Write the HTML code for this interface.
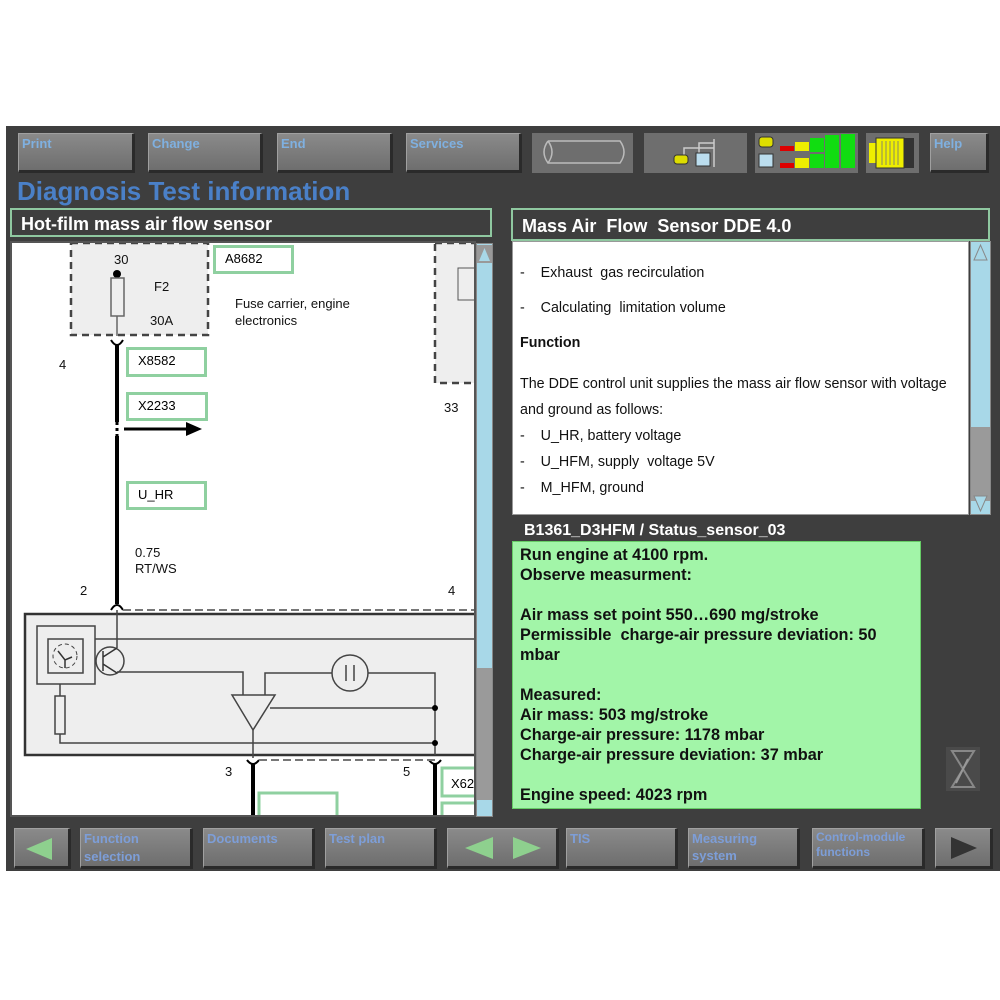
<!DOCTYPE html>
<html><head><meta charset="utf-8"><style>
*{margin:0;padding:0;box-sizing:border-box}
body{width:1000px;height:1000px;background:#fff;position:relative;overflow:hidden;font-family:"Liberation Sans",sans-serif}
.a{position:absolute}
.btn{position:absolute;background:linear-gradient(#8a8a8a,#6e6e6e);border-top:1px solid #a0a0a0;border-left:1px solid #a0a0a0;border-right:3px solid #2a2a2a;border-bottom:3px solid #2a2a2a;color:#7fb0e0;font-weight:bold;font-size:13px;padding:1px 3px;line-height:17px}
.ic{position:absolute;background:#6e6e6e}
.lbl{position:absolute;border:3px solid #8fd0a0;background:#fff;font-size:13px;padding-left:9px;line-height:22px}
.t{position:absolute;font-size:13px;color:#111}
</style></head><body>
<div class="a" style="left:6px;top:126px;width:994px;height:745px;background:#3e3e3e"></div>

<div class="btn" style="left:18px;top:133px;width:117px;height:40px">Print</div>
<div class="btn" style="left:148px;top:133px;width:115px;height:40px">Change</div>
<div class="btn" style="left:277px;top:133px;width:116px;height:40px">End</div>
<div class="btn" style="left:406px;top:133px;width:116px;height:40px">Services</div>
<div class="ic" style="left:532px;top:133px;width:101px;height:40px"></div>
<svg class="a" style="left:532px;top:133px" width="101" height="40"><path d="M16 8 H88 Q96 19 88 30 H16 Q8 19 16 8 M16 8 Q24 19 16 30" fill="none" stroke="#bbb" stroke-width="1.5"/></svg>
<div class="ic" style="left:644px;top:133px;width:103px;height:40px"></div>
<svg class="a" style="left:644px;top:133px" width="103" height="40"><path d="M40 26 V15 H70 M55 22 V10 H70 M70 6 V34" fill="none" stroke="#ccc" stroke-width="1.5"/><rect x="30" y="22" width="14" height="9" rx="3" fill="#dd0" stroke="#333"/><rect x="52" y="20" width="14" height="13" fill="#bde" stroke="#333"/></svg>
<div class="ic" style="left:755px;top:133px;width:103px;height:40px"></div>
<svg class="a" style="left:755px;top:133px" width="103" height="40"><rect x="4" y="4" width="14" height="10" rx="3" fill="#dd0" stroke="#333"/><rect x="4" y="21" width="14" height="13" fill="#bde" stroke="#333"/>
<rect x="25" y="13" width="14" height="5" fill="#d00"/><rect x="40" y="9" width="14" height="9" fill="#ee0"/><rect x="55" y="5" width="14" height="14" fill="#1d1"/><rect x="70" y="2" width="14" height="17" fill="#1d1"/><rect x="86" y="1" width="14" height="18" fill="#1d1"/>
<rect x="25" y="30" width="14" height="5" fill="#d00"/><rect x="40" y="25" width="14" height="10" fill="#ee0"/><rect x="55" y="21" width="14" height="14" fill="#1d1"/><rect x="70" y="18" width="14" height="17" fill="#1d1"/><rect x="86" y="17" width="14" height="18" fill="#1d1"/></svg>
<div class="ic" style="left:866px;top:133px;width:53px;height:40px"></div>
<svg class="a" style="left:866px;top:133px" width="53" height="40"><rect x="3" y="10" width="8" height="20" fill="#ee0"/><rect x="10" y="5" width="28" height="30" fill="#ee0" stroke="#333"/><path d="M16 8v24M20 8v24M24 8v24M28 8v24M32 8v24" stroke="#886" /><rect x="38" y="5" width="10" height="30" fill="#333"/></svg>
<div class="btn" style="left:930px;top:133px;width:59px;height:40px">Help</div>

<div class="a" style="left:17px;top:176px;font-size:26px;font-weight:bold;color:#4a80c8">Diagnosis Test information</div>

<div class="a" style="left:10px;top:208px;width:482px;height:29px;border:2px solid #8fc8a0;color:#fff;font-weight:bold;font-size:18px;padding-left:9px;line-height:28px">Hot-film mass air flow sensor</div>
<div class="a" style="left:511px;top:208px;width:479px;height:33px;border:2px solid #8fc8a0;color:#fff;font-weight:bold;font-size:18px;padding-left:9px;line-height:32px">Mass Air&nbsp; Flow&nbsp; Sensor DDE 4.0</div>

<!-- diagram -->
<div class="a" style="left:10px;top:241px;width:466px;height:576px;background:#fff;border:2px solid #555;overflow:hidden">
<svg width="466" height="576" viewBox="12 243 466 576" style="position:absolute;left:0;top:0">
<rect x="71" y="243" width="137" height="92" fill="#eee" stroke="#444" stroke-width="2.5" stroke-dasharray="7,5"/>
<rect x="435" y="243" width="50" height="140" fill="#eee" stroke="#444" stroke-width="2.5" stroke-dasharray="7,5"/>
<rect x="458" y="268" width="20" height="32" fill="#eee" stroke="#555"/>
<circle cx="117" cy="274" r="4" fill="#000"/>
<rect x="111" y="278" width="13" height="38" fill="#eee" stroke="#666" stroke-width="1.5"/>
<path d="M117 316 V336" stroke="#666" stroke-width="1.5"/>
<path d="M111 340 Q117 350 123 340" fill="none" stroke="#000" stroke-width="2"/>
<path d="M117 345 V422" stroke="#000" stroke-width="4"/>
<path d="M117 422 V436" stroke="#000" stroke-width="3" stroke-dasharray="3,3"/>
<path d="M117 436 V604" stroke="#000" stroke-width="4"/>
<path d="M124 429 H188" stroke="#000" stroke-width="3"/><path d="M186 422 L202 429 L186 436Z" fill="#000"/>
<path d="M111 610 Q117 600 123 610" fill="none" stroke="#000" stroke-width="2"/>
<path d="M123 610 H478" stroke="#777" stroke-width="2" stroke-dasharray="8,4"/>
<rect x="25" y="614" width="460" height="141" fill="#eee" stroke="#333" stroke-width="2.5"/>
<rect x="37" y="626" width="58" height="58" fill="#eee" stroke="#444" stroke-width="1.5"/>
<rect x="48" y="639" width="35" height="34" fill="#eee" stroke="#444" stroke-width="1.5"/>
<circle cx="65" cy="656" r="12" fill="none" stroke="#444" stroke-dasharray="4,3"/>
<path d="M58 651 L65 660 L72 657 M65 660 V668" fill="none" stroke="#333" stroke-width="1.5"/>
<circle cx="110" cy="661" r="14" fill="#eee" stroke="#444" stroke-width="1.5"/>
<path d="M103 651 V671 M103 657 L117 648 M103 664 L117 673" stroke="#333" stroke-width="1.5"/>
<path d="M117 610 V648" stroke="#444" stroke-width="1.5"/>
<path d="M95 639 H478 M117 672 H243 V695 M265 695 V673 H333 M367 673 H435 V755 M270 708 H435 M60 684 V696 M60 734 V743 H435 M253 730 V758" fill="none" stroke="#444" stroke-width="1.5"/>
<rect x="55" y="696" width="10" height="38" fill="#eee" stroke="#444" stroke-width="1.5"/>
<circle cx="350" cy="673" r="18" fill="#eee" stroke="#444" stroke-width="1.5"/>
<path d="M346 665 V681 M354 665 V681" stroke="#444" stroke-width="1.5"/>
<path d="M232 695 H275 L253 730Z" fill="#eee" stroke="#444" stroke-width="1.5"/>
<circle cx="435" cy="708" r="3" fill="#000"/><circle cx="435" cy="743" r="3" fill="#000"/>
<path d="M247 760 Q253 768 259 760 M429 760 Q435 768 441 760" fill="none" stroke="#000" stroke-width="2"/>
<path d="M259 760 H435" stroke="#777" stroke-width="2" stroke-dasharray="8,4"/>
<path d="M253 764 V820 M435 764 V820" stroke="#000" stroke-width="4"/>
<rect x="259" y="793" width="78" height="30" fill="none" stroke="#8fd0a0" stroke-width="3"/>
<rect x="442" y="768" width="40" height="28" fill="#fff" stroke="#8fd0a0" stroke-width="3"/>
<rect x="442" y="803" width="40" height="28" fill="#fff" stroke="#8fd0a0" stroke-width="3"/>
<text x="451" y="788" font-size="13" font-family="Liberation Sans">X62</text>
</svg>
</div>
<div class="lbl" style="left:213px;top:245px;width:81px;height:29px">A8682</div>
<div class="lbl" style="left:126px;top:347px;width:81px;height:30px">X8582</div>
<div class="lbl" style="left:126px;top:392px;width:82px;height:29px">X2233</div>
<div class="lbl" style="left:126px;top:481px;width:81px;height:29px">U_HR</div>
<div class="t" style="left:114px;top:252px">30</div>
<div class="t" style="left:154px;top:279px">F2</div>
<div class="t" style="left:150px;top:313px">30A</div>
<div class="t" style="left:235px;top:295px;line-height:17px">Fuse carrier, engine<br>electronics</div>
<div class="t" style="left:59px;top:357px">4</div>
<div class="t" style="left:444px;top:400px">33</div>
<div class="t" style="left:135px;top:545px;line-height:16px">0.75<br>RT/WS</div>
<div class="t" style="left:80px;top:583px">2</div>
<div class="t" style="left:448px;top:583px">4</div>
<div class="t" style="left:225px;top:764px">3</div>
<div class="t" style="left:403px;top:764px">5</div>
<!-- left scrollbar -->
<div class="a" style="left:476px;top:243px;width:17px;height:574px;background:#a8d8e8;border:1px solid #888"></div>
<div class="a" style="left:477px;top:668px;width:15px;height:132px;background:#9a9a9a"></div>
<div class="a" style="left:477px;top:245px;width:15px;height:18px;background:#999"></div>
<svg class="a" style="left:477px;top:245px" width="15" height="572"><path d="M2 16 L7.5 3 L13 16Z" fill="#a8d8e8"/><path d="M2 556 L7.5 569 L13 556Z" fill="#a8d8e8"/></svg>

<!-- right text -->
<div class="a" style="left:512px;top:241px;width:457px;height:274px;background:#fff;border:1px solid #999;font-size:14.3px;color:#111">
<div class="a" style="left:7px;top:23px">-&nbsp;&nbsp;&nbsp; Exhaust&nbsp; gas recirculation</div>
<div class="a" style="left:7px;top:58px">-&nbsp;&nbsp;&nbsp; Calculating&nbsp; limitation volume</div>
<div class="a" style="left:7px;top:93px;font-weight:bold">Function</div>
<div class="a" style="left:7px;top:129px;line-height:26px;width:450px">The DDE control unit supplies the mass air flow sensor with voltage and ground as follows:</div>
<div class="a" style="left:7px;top:186px">-&nbsp;&nbsp;&nbsp; U_HR, battery voltage</div>
<div class="a" style="left:7px;top:212px">-&nbsp;&nbsp;&nbsp; U_HFM, supply&nbsp; voltage 5V</div>
<div class="a" style="left:7px;top:238px">-&nbsp;&nbsp;&nbsp; M_HFM, ground</div>
</div>
<div class="a" style="left:970px;top:241px;width:21px;height:274px;background:#a8d8e8;border:1px solid #888"></div>
<div class="a" style="left:971px;top:427px;width:19px;height:74px;background:#9a9a9a"></div>
<svg class="a" style="left:971px;top:242px" width="19" height="272"><path d="M3 18 L9.5 3 L16 18Z" fill="#a8d8e8" stroke="#888"/><path d="M3 254 L9.5 269 L16 254Z" fill="#a8d8e8" stroke="#888"/></svg>

<div class="a" style="left:524px;top:522px;color:#fff;font-weight:bold;font-size:16px">B1361_D3HFM / Status_sensor_03</div>
<div class="a" style="left:512px;top:541px;width:409px;height:268px;background:#a2f5a8;border:1px solid #6c6;font-weight:bold;font-size:16.3px;color:#111;padding:3px 0 0 7px;line-height:20px">
Run engine at 4100 rpm.<br>Observe measurment:<br><br>Air mass set point 550…690 mg/stroke<br>Permissible&nbsp; charge-air pressure deviation: 50<br>mbar<br><br>Measured:<br>Air mass: 503 mg/stroke<br>Charge-air pressure: 1178 mbar<br>Charge-air pressure deviation: 37 mbar<br><br>Engine speed: 4023 rpm</div>
<svg class="a" style="left:944px;top:745px" width="38" height="48"><rect x="2" y="2" width="34" height="44" fill="#4a4a4a"/><path d="M8 6 H30 L19 24 L30 42 H8 L19 24Z" fill="none" stroke="#888" stroke-width="2"/><path d="M12 38 L24 14" stroke="#999" stroke-width="2"/></svg>

<!-- bottom -->
<div class="btn" style="left:14px;top:828px;width:57px;height:41px"></div>
<svg class="a" style="left:22px;top:836px" width="40" height="26"><path d="M30 2 L4 13 L30 24Z" fill="#8ed08e"/></svg>
<div class="btn" style="left:80px;top:828px;width:113px;height:41px;color:#7d9ed8;line-height:18px">Function<br>selection</div>
<div class="btn" style="left:203px;top:828px;width:112px;height:41px;color:#7d9ed8">Documents</div>
<div class="btn" style="left:325px;top:828px;width:112px;height:41px;color:#7d9ed8">Test plan</div>
<div class="btn" style="left:447px;top:828px;width:112px;height:41px"></div>
<svg class="a" style="left:455px;top:834px" width="100" height="28"><path d="M38 3 L10 14 L38 25Z" fill="#8ed08e"/><path d="M58 3 L86 14 L58 25Z" fill="#8ed08e"/></svg>
<div class="btn" style="left:566px;top:828px;width:112px;height:41px;color:#7d9ed8">TIS</div>
<div class="btn" style="left:688px;top:828px;width:112px;height:41px;color:#7d9ed8;line-height:17px">Measuring<br>system</div>
<div class="btn" style="left:812px;top:828px;width:113px;height:41px;color:#7d9ed8;line-height:15px;font-size:12px">Control-module<br>functions</div>
<div class="btn" style="left:935px;top:828px;width:58px;height:41px"></div>
<svg class="a" style="left:945px;top:834px" width="40" height="28"><path d="M6 3 L32 14 L6 25Z" fill="#333"/></svg>
</body></html>
